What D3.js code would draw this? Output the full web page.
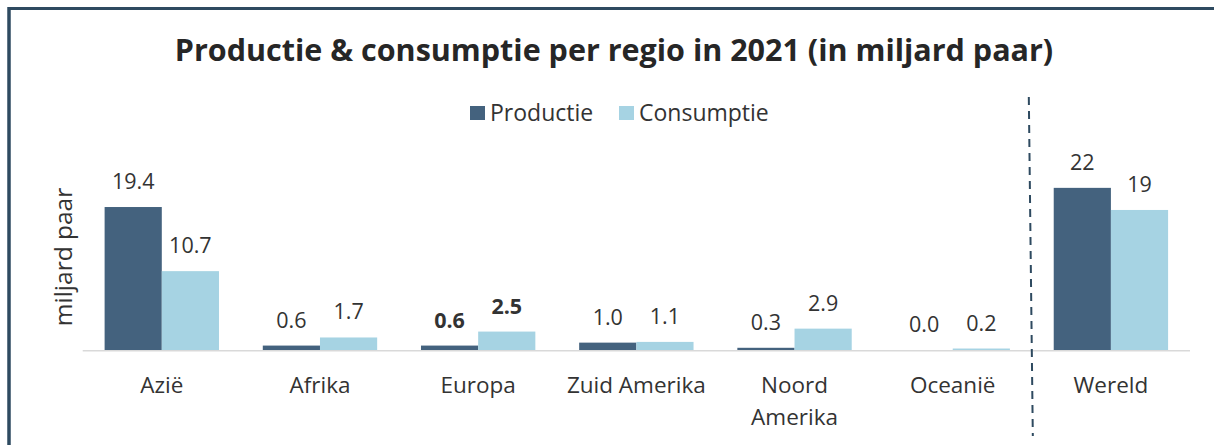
<!DOCTYPE html>
<meta charset="utf-8">
<style>
  body { margin: 0; background: #fff; }
  svg text { font-family: "Open Sans", sans-serif; fill: #333; }
  .title { font-size: 30.5px; font-weight: bold; fill: #262626; }
  .legend text { font-size: 23px; }
  .value { font-size: 21.5px; text-anchor: middle; }
  .cat { font-size: 22.5px; text-anchor: middle; }
  .ytitle { font-size: 24.5px; text-anchor: middle; }
</style>
<svg width="1214" height="445"></svg>
<script src="https://cdn.jsdelivr.net/npm/d3@7"></script>
<script>
  // data
  var regions = ["Azië", "Afrika", "Europa", "Zuid Amerika", "Noord Amerika", "Oceanië", "Wereld"]
  var series = ["Productie", "Consumptie"]
  var productie = [19.4, 0.6, 0.6, 1.0, 0.3, 0.0, 22]
  var consumptie = [10.7, 1.7, 2.5, 1.1, 2.9, 0.2, 19]
  var labelFormat = ["1f", "1f", "1f", "1f", "1f", "1f", "0f"]
  var boldRegion = "Europa"

  var colors = { Productie: "#44627e", Consumptie: "#a6d3e3" }

  var svg = d3.select("svg")
  var baseY = 350

  // border (top + left only)
  svg.append("line").attr("x1", 9).attr("x2", 1214).attr("y1", 8.5).attr("y2", 8.5)
    .attr("stroke", "#2e4a60").attr("stroke-width", 3)
  svg.append("line").attr("x1", 9).attr("x2", 9).attr("y1", 7).attr("y2", 445)
    .attr("stroke", "#2e4a60").attr("stroke-width", 3.5)

  svg.append("text").attr("class", "title")
    .attr("x", 614).attr("y", 61).attr("text-anchor", "middle")
    .text("Productie & consumptie per regio in 2021 (in miljard paar)")

  var x = d3.scaleBand()
    .domain(regions)
    .range([82.7, 1190])
    .paddingInner(0.277)
    .paddingOuter(0.1385)
  var xs = d3.scaleBand().domain(series).range([0, x.bandwidth()])
  var y = d3.scaleLinear().domain([0, 25]).range([baseY, baseY - 25 * 7.37])

  var rows = regions.map((r, i) => ({
    region: r,
    vals: [
      { key: "Productie", v: productie[i], f: labelFormat[i] },
      { key: "Consumptie", v: consumptie[i], f: labelFormat[i] }
    ]
  }))

  var g = svg.selectAll(".grp").data(rows).enter().append("g")
    .attr("transform", d => "translate(" + x(d.region) + ",0)")

  g.selectAll("rect").data(d => d.vals).enter().append("rect")
    .attr("x", d => xs(d.key))
    .attr("width", xs.bandwidth())
    .attr("y", d => y(d.v))
    .attr("height", d => baseY - y(d.v))
    .attr("fill", d => colors[d.key])

  g.selectAll(".value").data(d => d.vals.map(v => Object.assign({ region: d.region }, v)))
    .enter().append("text").attr("class", "value")
    .attr("x", d => xs(d.key) + xs.bandwidth() / 2)
    .attr("y", d => y(d.v) - 18)
    .style("font-weight", d => d.region === boldRegion ? "bold" : null)
    .text(d => d3.format("." + d.f)(d.v))

  // baseline
  svg.append("line").attr("x1", x.range()[0]).attr("x2", x.range()[1])
    .attr("y1", baseY + 0.75).attr("y2", baseY + 0.75)
    .attr("stroke", "#d9d9d9").attr("stroke-width", 1.5)

  // category labels
  var cat = svg.selectAll(".cat").data(regions).enter().append("text").attr("class", "cat")
    .attr("x", d => x(d) + x.bandwidth() / 2)
    .attr("y", 393)
  cat.each(function (d) {
    var t = d3.select(this)
    if (d === "Noord Amerika") {
      t.append("tspan").attr("x", t.attr("x")).text("Noord")
      t.append("tspan").attr("x", t.attr("x")).attr("dy", 32).text("Amerika")
    } else t.text(d)
  })

  // y-axis title
  svg.append("text").attr("class", "ytitle")
    .attr("transform", "translate(72,257) rotate(-90)")
    .text("miljard paar")

  // legend
  var leg = svg.append("g").attr("class", "legend")
  var legX = [470, 619]
  series.forEach((s, i) => {
    leg.append("rect").attr("x", legX[i]).attr("y", 106).attr("width", 15).attr("height", 14)
      .attr("fill", colors[s])
    leg.append("text").attr("x", legX[i] + 20).attr("y", 120.5).text(s)
  })

  // separator between regions and world
  var sep = x("Wereld") - x.step() * x.paddingInner() / 2
  svg.append("line").attr("x1", sep - 3).attr("x2", sep + 1).attr("y1", 97).attr("y2", 436)
    .attr("stroke", "#2e4a60").attr("stroke-width", 2).attr("stroke-dasharray", "8,6")
</script>
